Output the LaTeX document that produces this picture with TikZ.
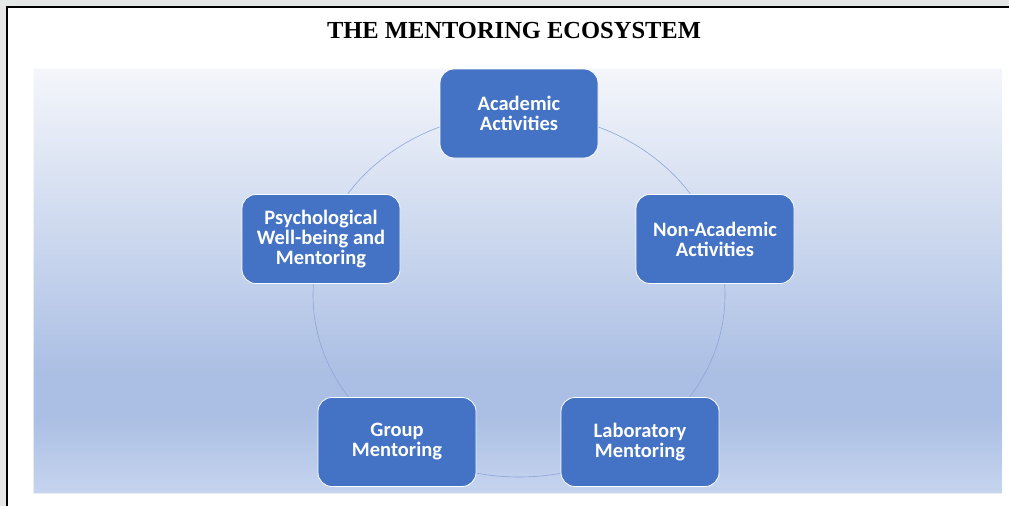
\documentclass[tikz,border=0pt]{standalone}
\usepackage{fontspec}
\setmainfont{Liberation Serif}
\newfontfamily\carl{Carlito}
\definecolor{outer}{HTML}{E4E8E6}
\definecolor{boxblue}{HTML}{4472C4}
\definecolor{ringcol}{HTML}{8EA6D6}
\definecolor{gtop}{HTML}{F4F6FB}
\definecolor{gdark}{HTML}{ABBFE4}
\definecolor{gbot}{HTML}{C6D4EE}
\pgfdeclareverticalshading{bgshade}{100bp}{color(0bp)=(gbot); color(25bp)=(gbot); color(34bp)=(gdark); color(39bp)=(gdark); color(75bp)=(gtop); color(100bp)=(gtop)}
\tikzset{
  part/.style={draw=white, line width=0.8pt, fill=boxblue, rounded corners=14pt,
    minimum width=158pt, minimum height=89pt, inner sep=0pt,
    text=white, align=center, font=\carl\bfseries\fontsize{20.5}{20}\selectfont},
  ring/.style={draw=ringcol, line width=0.6pt}
}
\begin{document}
\begin{tikzpicture}[x=1pt,y=-1pt]
\useasboundingbox (0,0) rectangle (1009,506);
\fill[outer] (0,0) rectangle (1009,506);
\fill[white] (8,8) rectangle (1009,506);
\draw[black, line width=2.2pt] (7,506) -- (7,7) -- (1009,7);
\node[font=\bfseries\fontsize{24.5}{26}\selectfont] (title) at (514,31) {THE MENTORING ECOSYSTEM};
\shade[shading=bgshade] (33,68) rectangle (1002,493);
\draw[white, opacity=0.6, line width=0.8pt] (33,68) rectangle (1002,493);
\draw[ring] (519,295) ellipse [x radius=206, y radius=182];
\node[part] (acad) at (519,113.5) {Academic\\Activities};
\node[part] (nonacad) at (715,239) {Non-Academic\\Activities};
\node[part] (lab) at (640,442) {Laboratory\\Mentoring};
\node[part] (group) at (397,442) {Group\\Mentoring};
\node[part] (psych) at (321,239) {Psychological\\Well-being and\\Mentoring};
\end{tikzpicture}
\end{document}
